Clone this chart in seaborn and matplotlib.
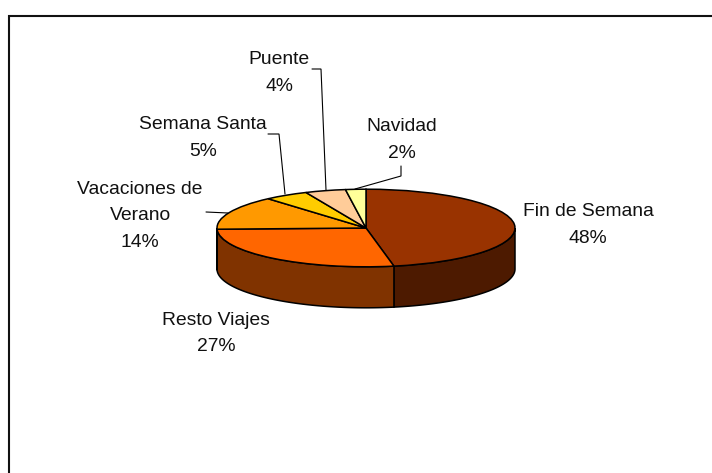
import numpy as np
import matplotlib
matplotlib.use("Agg")
import matplotlib.pyplot as plt
import seaborn as sns

categories = ["Fin de Semana", "Resto Viajes", "Vacaciones de\nVerano",
              "Semana Santa", "Puente", "Navidad"]
percent_labels = [48, 27, 14, 5, 4, 2]
slice_shares = [47.0, 27.5, 14.1, 4.8, 4.4, 2.2]
top_colors = ["#993300", "#FF6600", "#FF9900", "#FFCC00", "#FFCC99", "#FFFF99"]

W, H = 712, 473
CX, CY, RX, RY, DEPTH = 366.0, 228.0, 149.0, 38.8, 41.0

sns.set_theme(style="white")
plt.rcParams["font.family"] = ["Liberation Sans", "DejaVu Sans"]

fig = plt.figure(figsize=(W / 100, H / 100), dpi=100, facecolor="white")
ax = fig.add_axes([0, 0, 1, 1])
palette = sns.color_palette(top_colors)


def px(x, y):
    return (x - CX) / RX, (CY - y) / RY


# 3-D side walls, from the same slice values
depth = DEPTH / RY
edges = 90 - np.cumsum([0] + slice_shares) * 3.6
for i in range(len(slice_shares)):
    a = np.linspace(edges[i], edges[i + 1], 200)
    a = a[np.sin(np.radians(a)) <= 0]
    if a.size < 2:
        continue
    xs, ys = np.cos(np.radians(a)), np.sin(np.radians(a))
    ax.fill(np.r_[xs, xs[::-1]], np.r_[ys, ys[::-1] - depth],
            facecolor=tuple(c * 0.5 for c in palette[i]),
            edgecolor="black", linewidth=1.1, zorder=1)

wedges, _ = ax.pie(slice_shares, colors=palette, startangle=90, counterclock=False,
                   radius=1.0, center=(0, 0),
                   wedgeprops=dict(edgecolor="black", linewidth=1.1, zorder=2))

ax.set_aspect("auto")
ax.set_xlim(-CX / RX, (W - CX) / RX)
ax.set_ylim((CY - H) / RY, CY / RY)
ax.axis("off")

# labels
label_pos = [(588, 225), (216, 333.5), (140, 216), (203, 138), (279, 73), (402, 140)]
for name, pct, (lx, ly) in zip(categories, percent_labels, label_pos):
    tx, ty = px(lx, ly)
    ax.text(tx, ty, f"{name}\n{pct}%", ha="center", va="center",
            fontsize=13.9, color="#111111", linespacing=1.72, zorder=5)

# leader lines
leaders = [
    [(206, 212), (228, 213)],
    [(268, 134), (279, 134), (285, 194)],
    [(312, 69), (321, 69), (326, 190)],
    [(401, 166), (401, 176), (355, 189)],
]
for pts in leaders:
    p = np.array([px(*q) for q in pts])
    ax.plot(p[:, 0], p[:, 1], color="black", lw=0.8, zorder=4, solid_joinstyle="miter")

# chart-area frame (open at the right and bottom of the crop)
f = np.array([px(9, H), px(9, 16), px(W, 16)])
ax.plot(f[:, 0], f[:, 1], color="#111111", lw=1.5, zorder=6, clip_on=False,
        solid_joinstyle="miter")

fig.savefig("out.png", dpi=100, facecolor="white")
